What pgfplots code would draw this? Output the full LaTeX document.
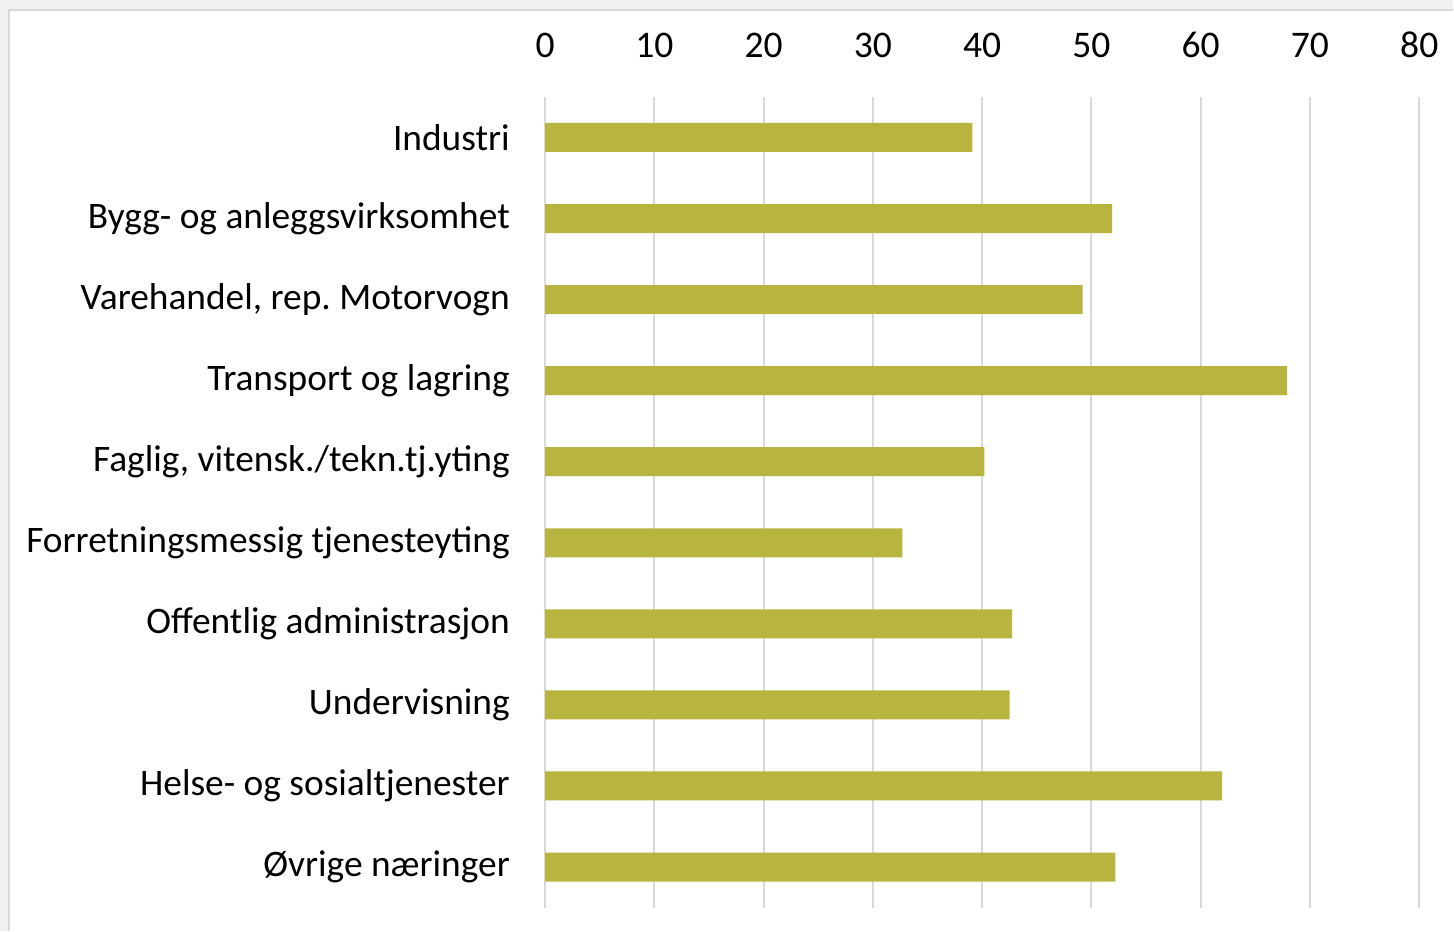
\documentclass[border=0pt]{standalone}
\usepackage{fontspec}
\setmainfont{Carlito}
\usepackage{pgfplots}
\pgfplotsset{compat=1.18}
\definecolor{barc}{RGB}{183,180,64}
\definecolor{gridc}{RGB}{217,217,217}
\definecolor{bgc}{RGB}{240,240,240}
\frenchspacing
\begin{document}
\begin{tikzpicture}
\fill[bgc] (0,0) rectangle (727pt,-465.5pt);
\fill[white] (4.5pt,-5pt) rectangle (727pt,-465.5pt);
\draw[gridc, line width=0.75pt] (4.5pt,-465.5pt) -- (4.5pt,-5pt) -- (727pt,-5pt);
\begin{axis}[
  at={(272.7pt,-454pt)}, anchor=south west,
  scale only axis, width=437.3pt, height=405.5pt,
  xmin=0, xmax=80, ymin=-0.5, ymax=9.5, y dir=reverse,
  xbar, bar width=14.5pt, bar shift=0pt,
  axis line style={draw=none},
  major tick length=0pt,
  xtick={0,10,...,80},
  xmajorgrids, grid style={gridc, line width=1pt},
  xticklabel pos=top,
  /pgf/number format/assume math mode=true,
  xticklabel style={font=\fontsize{18.8}{22}\selectfont, inner sep=0pt, anchor=south, yshift=19.5pt},
  ytick={0,...,9},
  yticklabels={Industri, Bygg- og anleggsvirksomhet, {Varehandel, rep.\ Motorvogn}, Transport og lagring, {Faglig, vitensk./tekn.tj.yting}, Forretningsmessig tjenesteyting, Offentlig administrasjon, Undervisning, Helse- og sosialtjenester, Øvrige næringer},
  yticklabel style={font=\fontsize{18.7}{22}\selectfont, inner sep=0pt, anchor=east, xshift=-17.5pt},
  clip=false,
]
\addplot[fill=barc, draw=none] coordinates {
 (39.1,0) (51.9,1) (49.2,2) (67.9,3) (40.2,4) (32.7,5) (42.75,6) (42.5,7) (61.95,8) (52.2,9)
};
\end{axis}
\end{tikzpicture}
\end{document}
